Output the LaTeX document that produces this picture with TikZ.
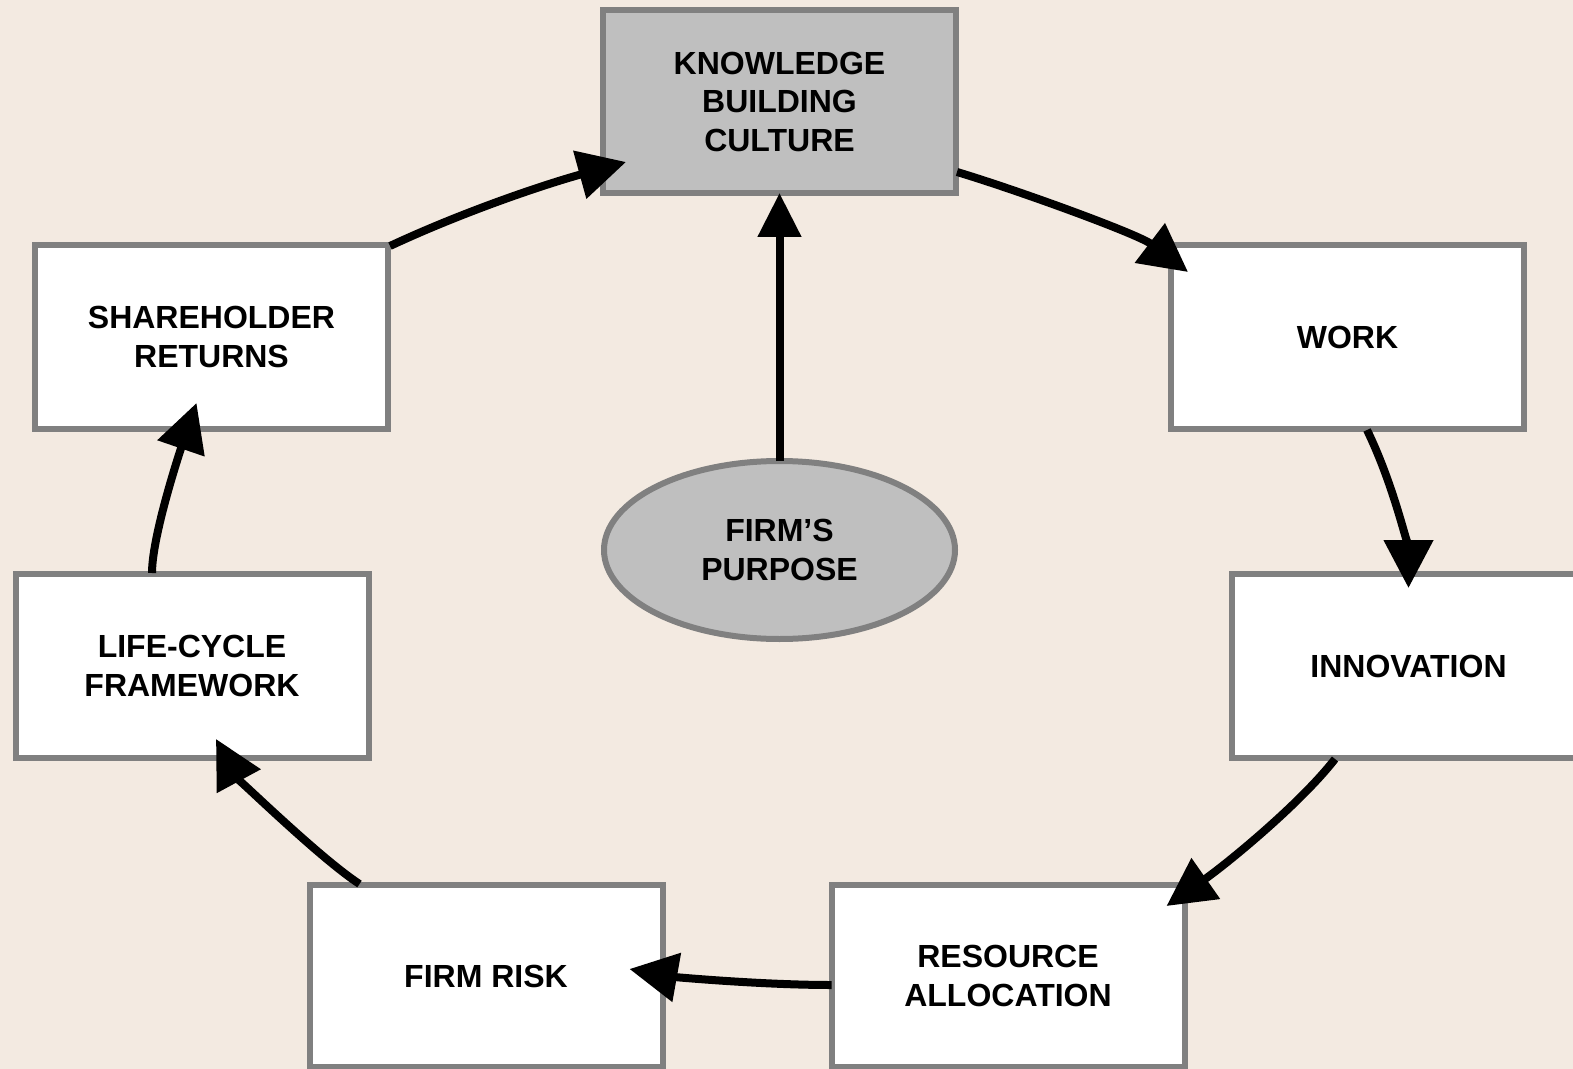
\documentclass[tikz,border=0pt]{standalone}
\usepackage{fontspec}
\setmainfont{Liberation Sans}
\usetikzlibrary{arrows.meta,calc,shapes.geometric}
\definecolor{bg}{HTML}{F3EAE1}
\definecolor{bordergray}{HTML}{808080}
\definecolor{fillgray}{HTML}{BFBFBF}
\begin{document}
\begin{tikzpicture}[x=0.5pt,y=-0.5pt,
  box/.style={draw=bordergray, line width=3pt, fill=white, minimum width=176.5pt,
    minimum height=92pt, inner sep=0pt, outer sep=0pt, align=center,
    font=\fontsize{16}{19.25}\selectfont\bfseries},
  graybox/.style={box, fill=fillgray},
  purpose/.style={ellipse, draw=bordergray, line width=3pt, fill=fillgray,
    minimum width=175.5pt, minimum height=89pt, inner sep=0pt, outer sep=0pt,
    align=center, font=\fontsize{16}{19.25}\selectfont\bfseries},
  flow/.style={line width=4pt, -{Triangle[length=24pt,width=24pt,quick]}},
  upflow/.style={line width=4pt, -{Triangle[length=22pt,width=21pt]}}]
\fill[bg] (0,0) rectangle (1573,1069);
\useasboundingbox (0,0) rectangle (1573,1069);
\clip (0,0) rectangle (1573,1069);

\node[graybox, minimum height=91.5pt] (kb) at (779.5,101.5) {KNOWLEDGE\\BUILDING\\CULTURE};
\node[box] (work) at (1347.5,337) {WORK};
\node[box] (innov) at (1408.5,666) {INNOVATION};
\node[box, minimum height=91pt] (res) at (1008,976) {RESOURCE\\ALLOCATION};
\node[box, minimum height=91pt] (risk) at (486,976) {FIRM RISK};
\node[box] (life) at (192,666) {LIFE-CYCLE\\FRAMEWORK};
\node[box] (share) at (211.5,337) {SHAREHOLDER\\RETURNS};
\node[purpose] (fp) at (779.5,550) {FIRM’S\\PURPOSE};

% connectors
\draw[flow] ($(share.north east)+(2,1)$) .. controls +(75,-35) and +(-80,22) .. ($(kb.south west)+(23,-31)$);
\draw[flow] ($(kb.south east)+(1,-21)$) .. controls +(60,18) and +(-50,-38) .. ($(work.north west)+(17,27)$);
\draw[flow] ($(work.south west)+(196,1)$) .. controls +(30,62) and +(0,-32) .. ($(innov.north)+(0,14)$);
\draw[flow] ($(innov.south west)+(103,1)$) .. controls +(-35,45) and +(60,-42) .. ($(res.north east)+(-18,21)$);
\draw[flow] ($(res.west)+(0,9)$) .. controls +(-70,0) and +(45,8) .. ($(risk.east)+(-33,-7)$);
\draw[flow] ($(risk.north west)+(50,-1)$) .. controls +(-40,-26) and +(20,37) .. ($(life.south west)+(200.5,-19)$);
\draw[flow] ($(life.north west)+(136.5,-1)$) .. controls +(0,-40) and +(-12,35) .. ($(share.south west)+(161.5,-26)$);
\draw[upflow] (fp.north) -- (kb.south);
\end{tikzpicture}
\end{document}
